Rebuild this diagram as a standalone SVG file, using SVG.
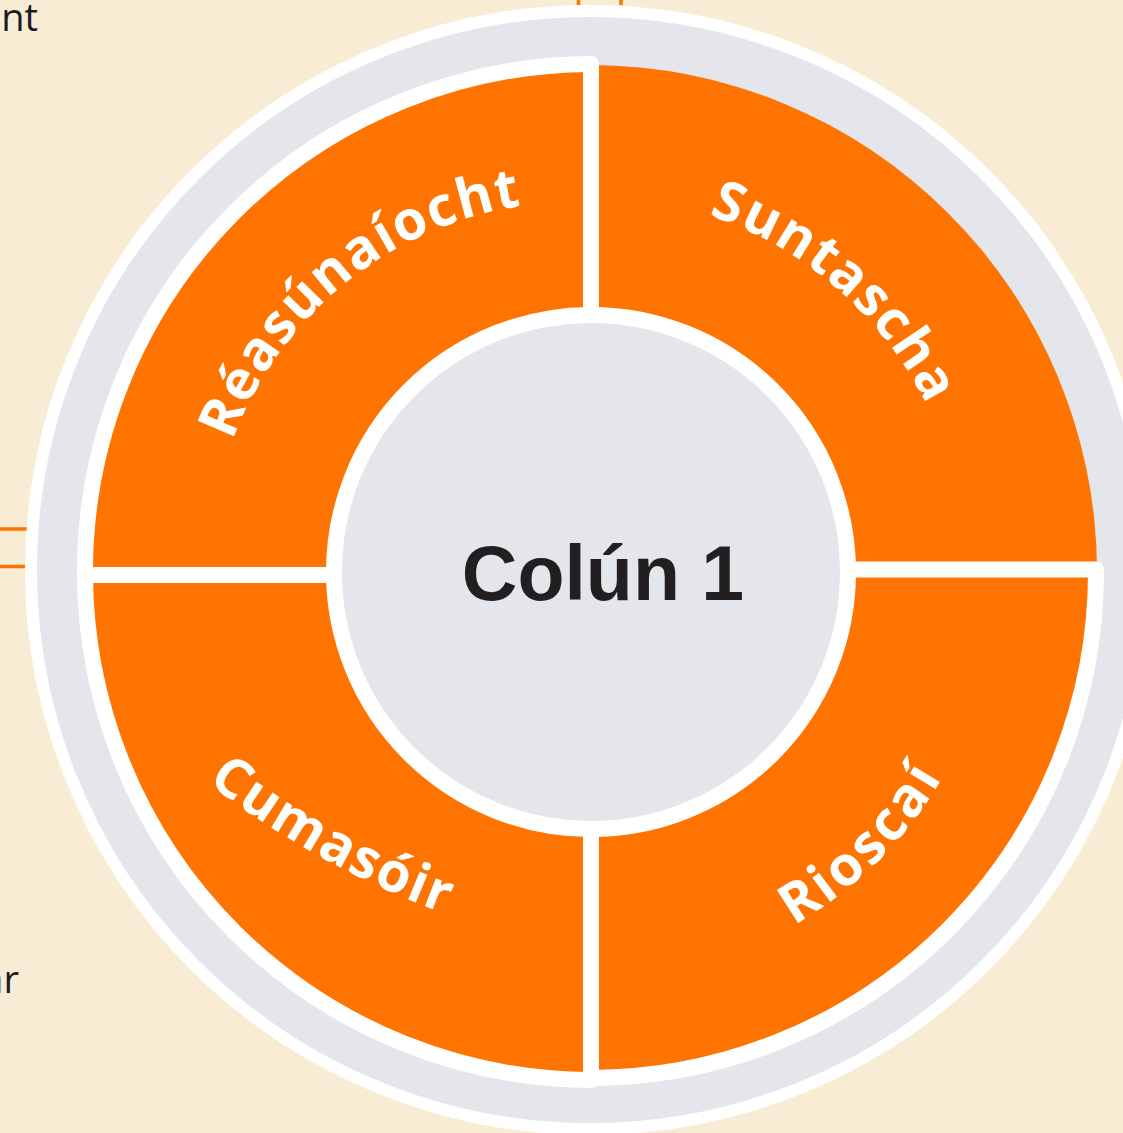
<svg xmlns="http://www.w3.org/2000/svg" width="1123" height="1133" viewBox="0 0 1123 1133">
  <defs>
    <style>
      .seg { fill: #FF7300; stroke: #FFFFFF; stroke-width: 16; stroke-linejoin: round; }
      .segnostroke { fill: #FF7300; }
      .lbl { font-family: "Open Sans", "Noto Sans", "DejaVu Sans", sans-serif; font-weight: 700; font-size: 55px; fill: #FFFFFF; letter-spacing: 1.5px; }
      .side { font-family: "Open Sans", "Noto Sans", "DejaVu Sans", sans-serif; font-size: 38px; fill: #1C1C24; }
      .conn { stroke: #FF7300; stroke-width: 3.5; fill: none; }
    </style>
    <path id="pTL" d="M222.4,472.5 A365,365 0 0 1 555.9,202.5"/>
    <path id="pTR" d="M662.4,203 A376,376 0 0 1 945.7,450.2"/>
    <path id="pBL" d="M163.4,747 A922,922 0 0 0 499,932.2"/>
    <path id="pBR" d="M762.4,941.8 A408,408 0 0 0 959.8,744.4"/>
  </defs>

  <rect x="0" y="0" width="1123" height="1133" fill="#F8EDD4"/>

  <g id="connectors">
    <line class="conn" x1="0" y1="529" x2="27" y2="529"/>
    <line class="conn" x1="0" y1="566.5" x2="26" y2="566.5"/>
    <line class="conn" x1="578.5" y1="0" x2="578.5" y2="5"/>
    <line class="conn" x1="621" y1="0" x2="621" y2="5"/>
  </g>

  <g id="side-labels">
    <text class="side" x="38" y="31" text-anchor="end">nt</text>
    <text class="side" x="19" y="993" text-anchor="end">ar</text>
  </g>

  <g id="outer-ring">
    <circle cx="590" cy="570" r="559" fill="#E5E6EC" stroke="#FFFFFF" stroke-width="12"/>
  </g>

  <g id="node-suntascha">
    <path class="segnostroke" d="M591,569.5 L591,65 A507,507 0 0 1 1097,569.5 Z"/>
    <text class="lbl"><textPath href="#pTR" startOffset="50%" text-anchor="middle">Suntascha</textPath></text>
  </g>

  <g id="node-reasunaiocht">
    <path class="seg" d="M591,575 L591,64 A508,508 0 0 0 85,575 Z"/>
    <text class="lbl"><textPath href="#pTL" startOffset="50%" text-anchor="middle">Réasúnaíocht</textPath></text>
  </g>

  <g id="node-cumasoir">
    <path class="seg" d="M591,575 L85,575 A508,508 0 0 0 591,1080 Z"/>
    <text class="lbl"><textPath href="#pBL" startOffset="50%" text-anchor="middle">Cumasóir</textPath></text>
  </g>

  <g id="node-rioscai">
    <path class="seg" d="M591,569.5 L1096,569.5 A506,506 0 0 1 591,1078 Z"/>
    <text class="lbl" style="letter-spacing:3px"><textPath href="#pBR" startOffset="50%" text-anchor="middle">Rioscaí</textPath></text>
  </g>

  <g id="node-colun1">
    <circle cx="591" cy="572" r="257" fill="#E5E6EC" stroke="#FFFFFF" stroke-width="16"/>
    <text x="603" y="600" text-anchor="middle" font-family="'Liberation Sans', Arial, sans-serif" font-weight="700" font-size="77" fill="#231F20">Colún 1</text>
  </g>
</svg>
